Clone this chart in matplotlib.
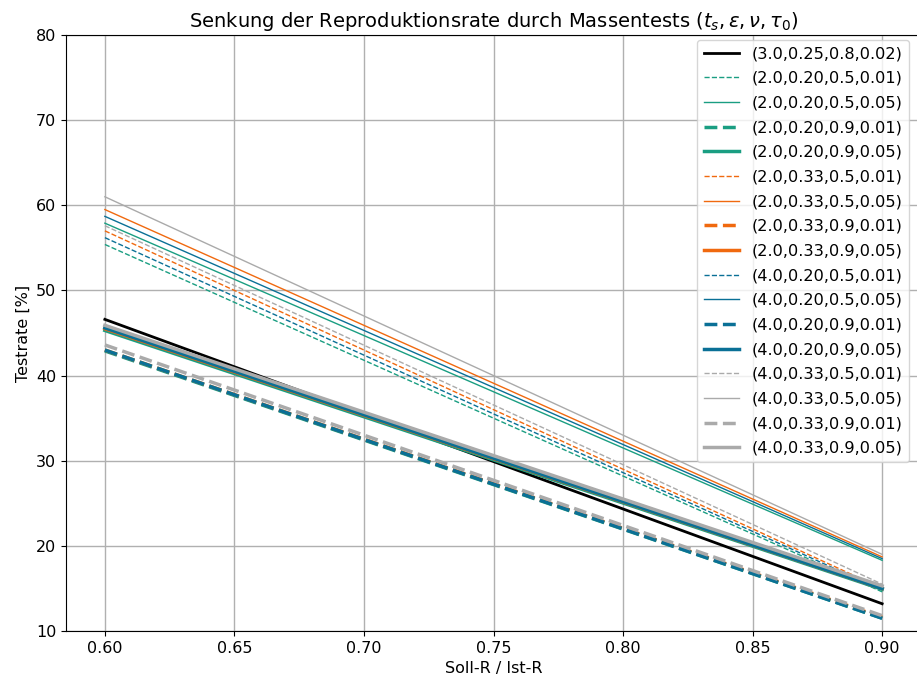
import matplotlib
matplotlib.use("Agg")
import matplotlib.pyplot as plt

x = [0.60, 0.90]

labels = [
    "(3.0,0.25,0.8,0.02)",
    "(2.0,0.20,0.5,0.01)", "(2.0,0.20,0.5,0.05)",
    "(2.0,0.20,0.9,0.01)", "(2.0,0.20,0.9,0.05)",
    "(2.0,0.33,0.5,0.01)", "(2.0,0.33,0.5,0.05)",
    "(2.0,0.33,0.9,0.01)", "(2.0,0.33,0.9,0.05)",
    "(4.0,0.20,0.5,0.01)", "(4.0,0.20,0.5,0.05)",
    "(4.0,0.20,0.9,0.01)", "(4.0,0.20,0.9,0.05)",
    "(4.0,0.33,0.5,0.01)", "(4.0,0.33,0.5,0.05)",
    "(4.0,0.33,0.9,0.01)", "(4.0,0.33,0.9,0.05)",
]

values = [
    [46.6, 13.2],
    [55.4, 14.6], [57.9, 18.3],
    [42.9, 11.5], [45.3, 14.9],
    [57.0, 15.0], [59.5, 18.7],
    [43.0, 11.6], [45.5, 15.0],
    [56.2, 14.8], [58.7, 18.5],
    [43.0, 11.5], [45.6, 15.0],
    [57.6, 15.5], [61.0, 19.0],
    [43.6, 11.8], [45.9, 15.3],
]

BLACK = "#000000"
GREEN = "#1a9e82"
ORANGE = "#f0690f"
BLUE = "#0a7096"
GRAY = "#aaaaaa"
colors = [BLACK] + [GREEN] * 4 + [ORANGE] * 4 + [BLUE] * 4 + [GRAY] * 4
styles = ["-"] + ["--", "-", "--", "-"] * 4
widths = [2.0] + [1.0, 1.0, 2.5, 2.5] * 4

fig = plt.figure(figsize=(9.17, 6.84), dpi=100)
ax = fig.add_axes([66 / 917, 53 / 684, (921 - 66) / 917, (631 - 35) / 684])

for lab, v, c, s, w in zip(labels, values, colors, styles, widths):
    ax.plot(x, v, color=c, linestyle=s, linewidth=w, label=lab)

ax.set_ylim(10, 80)
ax.set_xlim(0.585, 0.915)
ax.set_xticks([0.60, 0.65, 0.70, 0.75, 0.80, 0.85, 0.90])
ax.set_xticklabels(["0.60", "0.65", "0.70", "0.75", "0.80", "0.85", "0.90"])
ax.set_yticks(range(10, 81, 10))
ax.grid(True, color="#b0b0b0", linewidth=1.0)
ax.set_axisbelow(True)
ax.tick_params(labelsize=11.5)
ax.set_xlabel("Soll-R / Ist-R", fontsize=11.5)
ax.set_ylabel("Testrate [%]", fontsize=11.5)
ax.set_title(r"Senkung der Reproduktionsrate durch Massentests ($t_s, \varepsilon, \nu, \tau_0$)", fontsize=14)
ax.legend(loc="upper right", fontsize=11.6, handlelength=2.2, borderaxespad=0.3,
          labelspacing=0.6,
          bbox_to_anchor=(914 / 917, 0.9488), bbox_transform=fig.transFigure)

fig.savefig("out.png", dpi=100)
